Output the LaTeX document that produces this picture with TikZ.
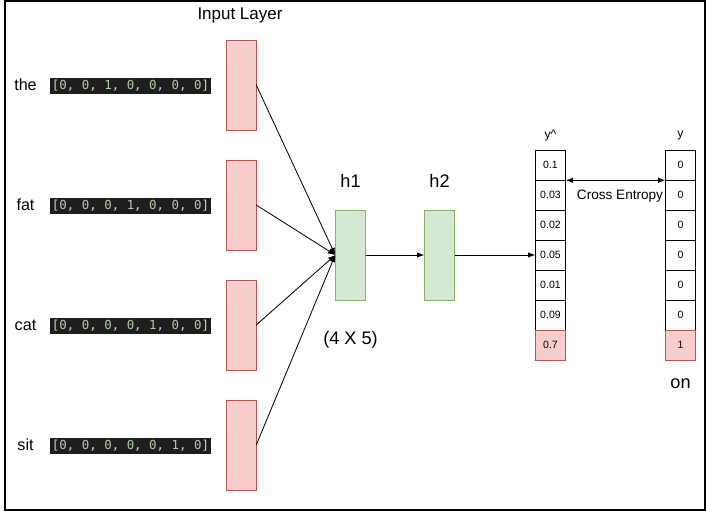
\documentclass[tikz,border=0pt]{standalone}
\usepackage{fontspec}
\setmainfont{Liberation Sans}
\setmonofont{DejaVu Sans Mono}
\usepackage{xcolor}
\usetikzlibrary{arrows.meta, positioning}

\definecolor{inpfill}{HTML}{F8CECC}
\definecolor{inpdraw}{HTML}{B85450}
\definecolor{hidfill}{HTML}{D5E8D4}
\definecolor{hiddraw}{HTML}{82B366}
\definecolor{codebg}{HTML}{1E1E1E}
\definecolor{codenum}{HTML}{B5CEA8}
\definecolor{codetxt}{HTML}{D4D4D4}
\newcommand{\cn}[1]{\textcolor{codenum}{#1}}

\begin{document}
\begin{tikzpicture}[
  x=0.03cm, y=-0.03cm,
  inbox/.style={draw=inpdraw, fill=inpfill, minimum width=0.9cm, minimum height=2.7cm, inner sep=0pt},
  hidbox/.style={draw=hiddraw, fill=hidfill, minimum width=0.9cm, minimum height=2.7cm, inner sep=0pt},
  cell/.style={draw, fill=white, minimum width=0.9cm, minimum height=0.9cm, inner sep=0pt, font=\fontsize{9}{11}\selectfont},
  code/.style={fill=codebg, text=codetxt, inner sep=2pt, font=\ttfamily\fontsize{10.6}{12}\selectfont},
  word/.style={font=\fontsize{13.8}{16}\selectfont},
  lbl/.style={font=\fontsize{15.5}{18}\selectfont},
  edge/.style={-Latex, line width=0.7pt}
]
\useasboundingbox (0,0) rectangle (706,512);
\draw[line width=0.9pt] (5,1) rectangle (705,510);

% input layer
\node[font=\fontsize{14.5}{17}\selectfont] (inlbl) at (240,15) {Input Layer};
\node[inbox] (in1) at (241,85) {};
\node[inbox] (in2) at (241,205) {};
\node[inbox] (in3) at (241,325) {};
\node[inbox] (in4) at (241,445) {};

\node[word] (w1) at (25.5,85) {the};
\node[word] (w2) at (25.5,205) {fat};
\node[word] (w3) at (25.5,325) {cat};
\node[word] (w4) at (25.5,445) {sit};

\node[code] (v1) at (130.5,86) {[\cn{0}, \cn{0}, \cn{1}, \cn{0}, \cn{0}, \cn{0}, \cn{0}]};
\node[code] (v2) at (130.5,206) {[\cn{0}, \cn{0}, \cn{0}, \cn{1}, \cn{0}, \cn{0}, \cn{0}]};
\node[code] (v3) at (130.5,326) {[\cn{0}, \cn{0}, \cn{0}, \cn{0}, \cn{1}, \cn{0}, \cn{0}]};
\node[code] (v4) at (130.5,446) {[\cn{0}, \cn{0}, \cn{0}, \cn{0}, \cn{0}, \cn{1}, \cn{0}]};

% hidden layers
\node[hidbox] (h1) at (350.5,255) {};
\node[hidbox] (h2) at (439.5,255) {};
\node[lbl] (h1lbl) at (350.5,181) {h1};
\node[lbl] (h2lbl) at (439.5,181) {h2};
\node[lbl] (dim) at (350.5,340) {(4 X 5)};

% output columns
\foreach \v [count=\i] in {0.1,0.03,0.02,0.05,0.01,0.09}
  \node[cell] (yh\i) at (550.5,135+30*\i) {\v};
\node[cell, fill=inpfill, draw=inpdraw] (yh7) at (550.5,345) {0.7};
\foreach \i in {1,...,6}
  \node[cell] (y\i) at (680.5,135+30*\i) {0};
\node[cell, fill=inpfill, draw=inpdraw] (y7) at (680.5,345) {1};

\node[font=\fontsize{10.5}{12}\selectfont] (yhlbl) at (550.5,136) {y\^{}};
\node[font=\fontsize{10.5}{12}\selectfont] (ylbl) at (680.5,136) {y};
\node[lbl] (out) at (680.5,384) {on};
\node[font=\fontsize{11.6}{14}\selectfont] (ce) at (620,196) {Cross Entropy};

% connections
\draw[edge] (in1.east) -- (h1.west);
\draw[edge] (in2.east) -- (h1.west);
\draw[edge] (in3.east) -- (h1.west);
\draw[edge] (in4.east) -- (h1.west);
\draw[edge] (h1) -- (h2);
\draw[edge] (h2.east) -- (yh4.west);
\draw[Latex-Latex, line width=0.7pt] (yh1.south east) -- (y1.south west);
\end{tikzpicture}
\end{document}
